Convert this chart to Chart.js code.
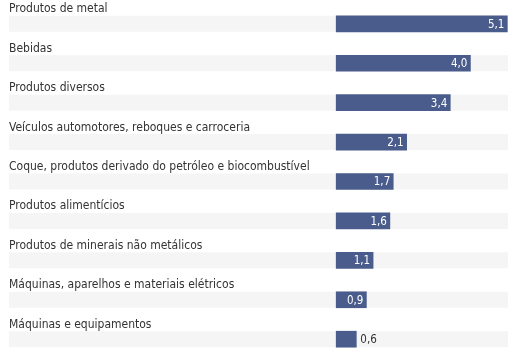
<!DOCTYPE html>
<html>
<head>
<meta charset="utf-8">
<script src="https://cdn.jsdelivr.net/npm/chart.js@4/dist/chart.umd.min.js"></script>
<style>
  html, body { margin: 0; padding: 0; background: #ffffff; }
  #wrap { width: 523px; height: 350px; position: relative; }
</style>
</head>
<body>
<div id="wrap"><canvas id="c"></canvas></div>
<script>
const categories = [
  "Produtos de metal",
  "Bebidas",
  "Produtos diversos",
  "Veículos automotores, reboques e carroceria",
  "Coque, produtos derivado do petróleo e biocombustível",
  "Produtos alimentícios",
  "Produtos de minerais não metálicos",
  "Máquinas, aparelhos e materiais elétricos",
  "Máquinas e equipamentos"
];
const values = [5.1, 4.0, 3.4, 2.1, 1.7, 1.6, 1.1, 0.9, 0.6];

const FONT = '"DejaVu Sans Condensed", "Liberation Sans Narrow", "Roboto", sans-serif';
const BAR_COLOR = '#4a5c8c';
const BAND_COLOR = '#f5f5f5';
const TEXT_COLOR = '#333333';
const BAR_H = 16;

const bandsAndLabels = {
  id: 'bandsAndLabels',
  beforeDatasetsDraw(chart) {
    const { ctx, chartArea, scales } = chart;
    ctx.save();
    ctx.fillStyle = BAND_COLOR;
    categories.forEach((c, i) => {
      const y = scales.y.getPixelForValue(i);
      ctx.fillRect(chartArea.left, y - BAR_H / 2, chartArea.right - chartArea.left, BAR_H);
    });
    ctx.fillStyle = TEXT_COLOR;
    ctx.font = '12px ' + FONT;
    ctx.textAlign = 'left';
    ctx.textBaseline = 'alphabetic';
    categories.forEach((c, i) => {
      const y = scales.y.getPixelForValue(i);
      ctx.fillText(c, chartArea.left, y - BAR_H / 2 - 3.5);
    });
    ctx.restore();
  },
  afterDatasetsDraw(chart) {
    const { ctx } = chart;
    const meta = chart.getDatasetMeta(0);
    ctx.save();
    ctx.font = '11.5px ' + FONT;
    ctx.textBaseline = 'middle';
    meta.data.forEach((bar, i) => {
      const txt = values[i].toFixed(1).replace('.', ',');
      const w = ctx.measureText(txt).width;
      const barW = bar.x - bar.base;
      if (barW > w + 8) {
        ctx.fillStyle = '#ffffff';
        ctx.textAlign = 'right';
        ctx.fillText(txt, bar.x - 3, bar.y + 1);
      } else {
        ctx.fillStyle = TEXT_COLOR;
        ctx.textAlign = 'left';
        ctx.fillText(txt, bar.x + 4, bar.y + 1);
      }
    });
    ctx.restore();
  }
};

new Chart(document.getElementById('c'), {
  type: 'bar',
  data: {
    labels: categories,
    datasets: [{
      data: values,
      backgroundColor: BAR_COLOR,
      barThickness: BAR_H,
      borderWidth: 0,
      clip: false
    }]
  },
  options: {
    indexAxis: 'y',
    responsive: true,
    maintainAspectRatio: false,
    animation: false,
    layout: { padding: { left: 9, right: 15, top: 23.8, bottom: 10.8 } },
    plugins: { legend: { display: false }, tooltip: { enabled: false } },
    scales: {
      x: { display: false, min: -9.75, max: 5.12, grid: { display: false } },
      y: { display: false, offset: false, grid: { display: false } }
    }
  },
  plugins: [bandsAndLabels]
});
</script>
</body>
</html>
